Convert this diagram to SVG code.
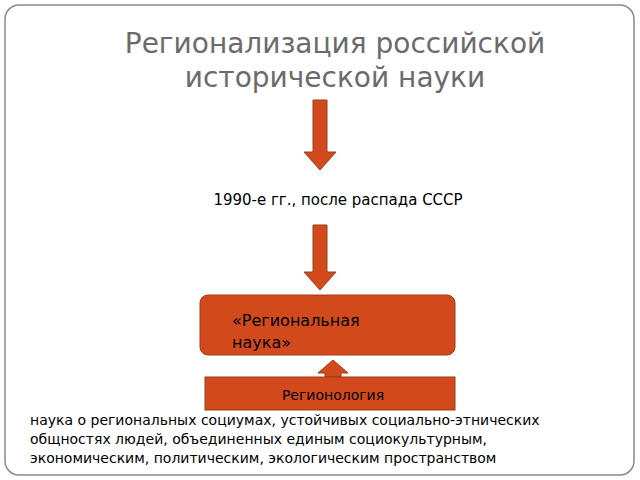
<svg xmlns="http://www.w3.org/2000/svg" width="640" height="480" viewBox="0 0 640 480">
<style>
text{font-family:"DejaVu Sans","Noto Sans",sans-serif}
.ar{fill:#d24a1c;stroke:#a83814;stroke-width:1}
.bx{fill:#d24a1c;stroke:#a83814;stroke-width:1}
</style>
<rect width="640" height="480" fill="#fff"/>
<rect x="5" y="5" width="629" height="470" rx="14" fill="#fff" stroke="#8a8a8a" stroke-width="1.5"/>
<g id="title"><text x="335" y="53" font-size="28" fill="#6b6b6b" text-anchor="middle">Регионализация российской</text><text x="335" y="87" font-size="28" fill="#6b6b6b" text-anchor="middle">исторической науки</text></g>
<g id="connectors">
<path class="ar" d="M313,100 H327 V152 H336 L320,170 L304,152 H313 Z"/>
<path class="ar" d="M313,225 H327 V272 H336 L320,290 L304,272 H313 Z"/>
<path class="ar" d="M325,377 V373 H318 L333,360 L348,373 H341 V377 Z"/>
</g>
<g id="period"><text x="338" y="205" font-size="15" fill="#000" text-anchor="middle">1990-е гг., после распада СССР</text></g>
<g id="regsci"><rect class="bx" x="200" y="295" width="255" height="60" rx="8"/><text x="232" y="326" font-size="16" fill="#000">«Региональная</text><text x="232" y="348" font-size="16" fill="#000">наука»</text></g>
<g id="regionology"><rect class="bx" x="205" y="377" width="250" height="33"/><text x="333" y="400" font-size="14" fill="#000" text-anchor="middle">Регионология</text></g>
<g id="desc" font-size="14" fill="#000"><text x="30" y="425">наука о региональных социумах, устойчивых социально-этнических</text><text x="30" y="444">общностях людей, объединенных единым социокультурным,</text><text x="30" y="463">экономическим, политическим, экологическим пространством</text></g>
</svg>
